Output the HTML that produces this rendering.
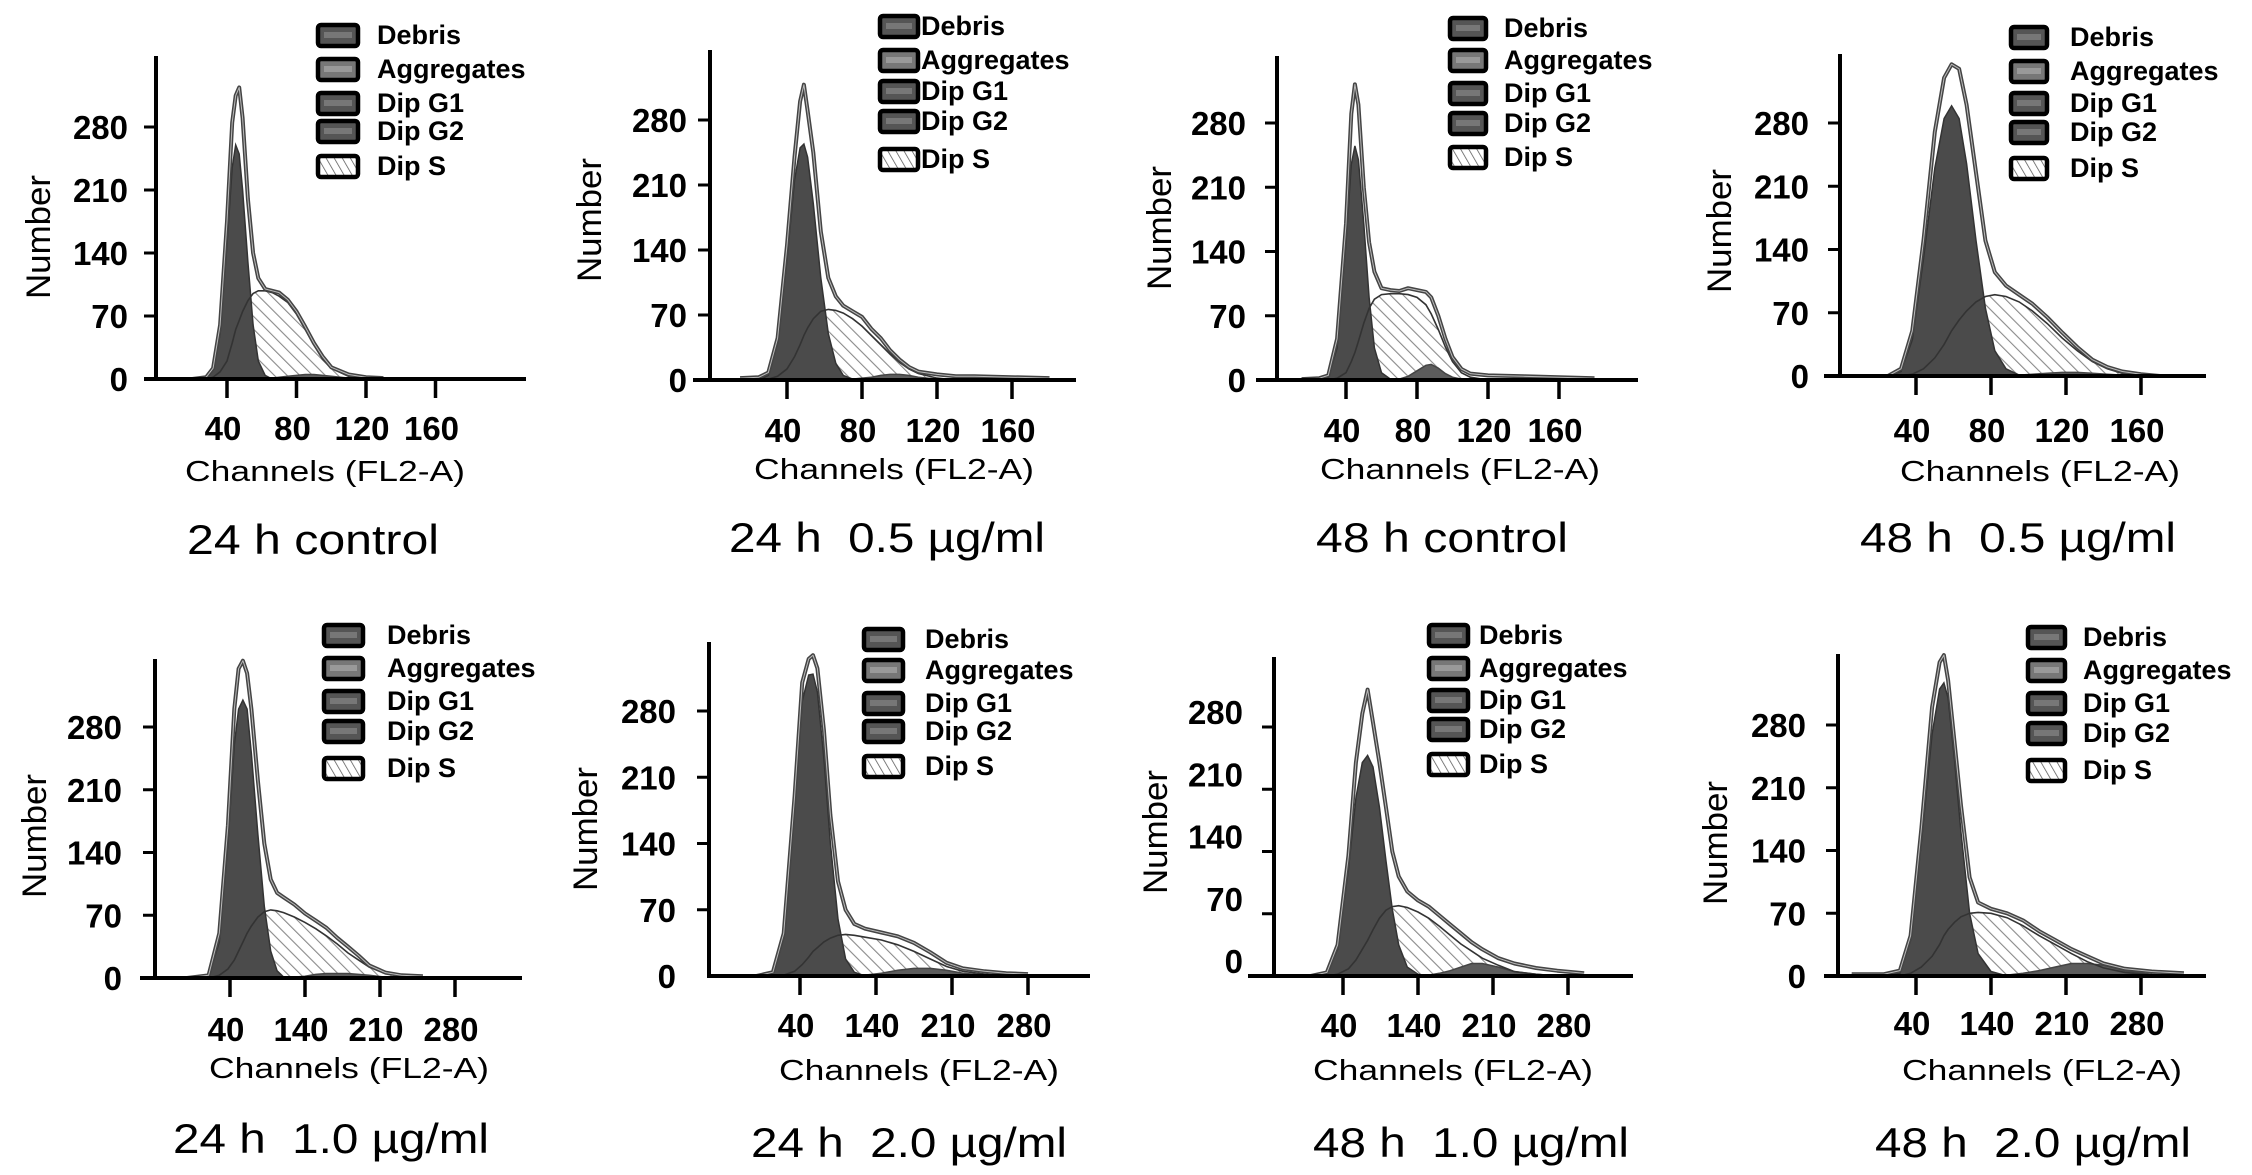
<!DOCTYPE html>
<html><head><meta charset="utf-8">
<style>
html,body{margin:0;padding:0;background:#fff;}
svg{display:block;}
text{font-family:"Liberation Sans",Arial,sans-serif;fill:#000;}
.ttl{white-space:pre;}
</style></head>
<body>
<svg id="fig" xmlns="http://www.w3.org/2000/svg" width="2252" height="1175" viewBox="0 0 2252 1175">
<defs>
<pattern id="hatch" patternUnits="userSpaceOnUse" width="9" height="9" patternTransform="rotate(-45)">
<rect width="9" height="9" fill="#fff"/>
<line x1="0" y1="0" x2="0" y2="9" stroke="#8a8a8a" stroke-width="2.2"/>
</pattern>
<pattern id="hatchS" patternUnits="userSpaceOnUse" width="7" height="7" patternTransform="rotate(-30)">
<rect width="7" height="7" fill="#fff"/>
<line x1="0" y1="0" x2="0" y2="7" stroke="#555" stroke-width="1.5"/>
</pattern>
</defs>
</svg>
<script>
// ---- shared tick data ----
const yTickValues = [0, 70, 140, 210, 280];
const yTickLabels = ["0", "70", "140", "210", "280"];
const xTickValsTop = [40, 80, 120, 160];
const xTickLabelsTop = ["40", "80", "120", "160"];
const xTickValsBottom = [70, 140, 210, 280];
const xTickLabelsBottom = ["40", "140", "210", "280"];
const legendLabels = ["Debris", "Aggregates", "Dip G1", "Dip G2", "Dip S"];
const panelTitles = ["24 h control", "24 h  0.5 µg/ml", "48 h control", "48 h  0.5 µg/ml",
                     "24 h  1.0 µg/ml", "24 h  2.0 µg/ml", "48 h  1.0 µg/ml", "48 h  2.0 µg/ml"];

// ---- panel 1: 24 h control ----
const p1Channels = [20,28,32,36,40,43,45,47,49,52,55,58,62,66,70,75,80,85,90,95,100,110,120,130];
const p1Total = [0,2,12,60,175,285,315,324,290,200,140,112,100,98,96,88,75,58,40,25,13,5,2,1];
const p1G1 = [0,1,10,50,150,235,260,250,210,130,60,20,4,0,0,0,0,0,0,0,0,0,0,0];
const p1S = [0,0,2,8,20,40,55,65,75,87,95,98,98,96,92,85,72,55,38,22,12,3,1,0];
const p1G2 = [0,0,0,0,0,0,0,0,0,0,0,0,0,1,2,3,4,5,5,4,3,1,0,0];
// ---- panel 2: 24 h 0.5 ----
const p2Channels = [15,25,30,35,40,44,47,49,51,54,58,62,66,70,75,80,85,90,95,100,105,110,120,130,140,160,180];
const p2Total = [2,3,8,45,145,240,300,318,290,245,160,110,90,80,74,68,55,45,32,22,14,9,6,4,4,3,2];
const p2G1 = [0,0,5,40,130,215,250,254,240,190,110,50,18,5,1,0,0,0,0,0,0,0,0,0,0,0,0];
const p2S = [0,0,1,4,12,25,38,48,56,66,74,76,75,72,66,58,48,38,28,19,12,7,2,0,0,0,0];
const p2G2 = [0,0,0,0,0,0,0,0,0,0,0,0,0,0,1,2,3,5,6,6,5,3,1,0,0,0,0];
// ---- panel 3: 48 h control ----
const p3Channels = [15,25,30,35,40,43,45,47,50,53,56,60,65,70,75,80,85,88,92,96,100,105,110,120,140,160,180];
const p3Total = [1,2,5,45,170,290,322,300,210,150,118,100,98,97,100,98,96,90,70,45,25,12,7,5,4,3,2];
const p3G1 = [0,0,3,35,150,235,255,240,170,90,35,8,1,0,0,0,0,0,0,0,0,0,0,0,0,0,0];
const p3S = [0,0,0,2,8,20,30,42,62,78,88,93,94,94,93,90,82,72,55,36,20,8,3,0,0,0,0];
const p3G2 = [0,0,0,0,0,0,0,0,0,0,0,0,0,1,4,10,16,17,13,7,3,1,0,0,0,0,0];
// ---- panel 4: 48 h 0.5 ----
const p4Channels = [25,32,38,44,50,55,59,63,67,72,77,82,88,95,102,110,118,126,134,142,150,160,170];
const p4Total = [0,8,50,150,270,330,345,340,300,225,150,115,100,90,80,65,48,32,18,10,5,2,0];
const p4G1 = [0,5,40,130,230,285,299,285,235,150,75,28,8,1,0,0,0,0,0,0,0,0,0];
const p4S = [0,0,2,8,20,35,50,62,72,82,88,90,88,82,72,58,42,28,16,8,3,1,0];
const p4G2 = [0,0,0,0,0,0,0,0,0,0,0,0,0,1,2,3,4,4,3,2,1,0,0];
// ---- panel 5: 24 h 1.0 ----
const p5Channels = [30,50,60,68,74,78,82,86,90,96,102,108,114,120,130,140,150,160,170,180,190,200,215,230,250];
const p5Total = [0,3,50,170,300,345,354,340,300,220,150,110,95,90,82,72,64,56,45,35,25,14,6,3,2];
const p5G1 = [0,2,40,150,260,300,310,300,250,160,80,30,8,1,0,0,0,0,0,0,0,0,0,0,0];
const p5S = [0,0,3,10,20,30,40,50,58,68,74,76,75,73,68,62,55,47,38,28,20,12,5,2,0];
const p5G2 = [0,0,0,0,0,0,0,0,0,0,0,0,0,0,1,2,4,5,5,5,4,3,1,0,0];
// ---- panel 6: 24 h 2.0 ----
const p6Channels = [30,45,55,65,72,78,82,86,92,98,105,112,120,130,145,160,175,190,205,220,240,260,280];
const p6Total = [0,4,45,190,310,335,339,325,260,170,100,70,55,50,46,42,35,25,14,8,5,3,2];
const p6G1 = [0,3,40,180,290,318,319,300,230,140,60,18,4,0,0,0,0,0,0,0,0,0,0];
const p6S = [0,0,1,5,12,20,26,30,36,40,43,44,43,41,38,33,26,18,10,5,2,0,0];
const p6G2 = [0,0,0,0,0,0,0,0,0,0,0,0,0,1,3,6,8,8,6,3,1,0,0];
// ---- panel 7: 48 h 1.0 ----
const p7Channels = [40,55,65,75,82,88,93,98,104,110,116,122,130,140,150,160,170,180,190,200,215,230,250,270,295];
const p7Total = [0,4,35,135,240,295,322,285,240,190,140,112,95,85,78,68,58,48,38,30,20,14,9,6,3];
const p7G1 = [0,3,30,120,200,240,248,235,190,130,75,35,10,2,0,0,0,0,0,0,0,0,0,0,0];
const p7S = [0,0,2,8,18,30,40,52,65,74,78,79,77,72,65,56,46,36,28,20,12,5,2,0,0];
const p7G2 = [0,0,0,0,0,0,0,0,0,0,0,0,0,0,1,3,6,10,14,14,10,5,2,0,0];
// ---- panel 8: 48 h 2.0 ----
const p8Channels = [10,40,55,65,75,85,92,96,100,106,112,120,128,140,155,170,185,200,215,230,245,265,290,320];
const p8Total = [2,2,6,45,165,300,350,358,330,260,190,110,82,75,70,62,50,40,30,22,14,8,5,3];
const p8G1 = [0,0,3,40,150,270,320,327,310,240,160,70,25,5,0,0,0,0,0,0,0,0,0,0];
const p8S = [0,0,0,3,10,22,35,45,52,60,66,70,71,70,65,56,45,35,25,16,9,4,1,0];
const p8G2 = [0,0,0,0,0,0,0,0,0,0,0,0,0,0,1,3,6,10,14,14,12,6,2,0];

const seriesByPanel = [
  [p1Channels,p1Total,p1G1,p1S,p1G2],[p2Channels,p2Total,p2G1,p2S,p2G2],
  [p3Channels,p3Total,p3G1,p3S,p3G2],[p4Channels,p4Total,p4G1,p4S,p4G2],
  [p5Channels,p5Total,p5G1,p5S,p5G2],[p6Channels,p6Total,p6G1,p6S,p6G2],
  [p7Channels,p7Total,p7G1,p7S,p7G2],[p8Channels,p8Total,p8G1,p8S,p8G2]
];

// ---- layout (pixel geometry, not data) ----
const layout = [
 {ax:156,top:56,base:379,y280:127,xa0:144,xa1:526,ox:157.5,tickPx:69.5,bottom:false,lgX:318,lgW:40,lgRows:[35,69,103,131,166],lgT:377,tickBase:440,chX:325,chBase:481,tX:313,tBase:554,numX:38,numY:237,yLabR:128,yLabOff:0},
 {ax:710,top:50,base:380,y280:120,xa0:693,xa1:1076,ox:712,tickPx:75,bottom:false,lgX:880,lgW:38,lgRows:[26,60,91,121,159],lgT:921,tickBase:442,chX:894,chBase:479,tX:887,tBase:552,numX:589,numY:220,yLabR:687,yLabOff:0},
 {ax:1277,top:56,base:380,y280:123,xa0:1256,xa1:1638,ox:1275,tickPx:71,bottom:false,lgX:1450,lgW:36,lgRows:[28,60,93,123,157],lgT:1504,tickBase:442,chX:1460,chBase:479,tX:1442,tBase:552,numX:1159,numY:228,yLabR:1246,yLabOff:0},
 {ax:1840,top:54,base:376,y280:123,xa0:1824,xa1:2206,ox:1841,tickPx:75,bottom:false,lgX:2011,lgW:36,lgRows:[37,71,103,132,168],lgT:2070,tickBase:442,chX:2040,chBase:481,tX:2018,tBase:552,numX:1719,numY:231,yLabR:1809,yLabOff:0},
 {ax:155,top:659,base:978,y280:727,xa0:140,xa1:522,ox:155,tickPx:75,bottom:true,lgX:324,lgW:39,lgRows:[635,668,701,731,768],lgT:387,tickBase:1041,chX:349,chBase:1078,tX:331,tBase:1153,numX:34,numY:836,yLabR:122,yLabOff:0},
 {ax:709,top:642,base:976,y280:711,xa0:709,xa1:1090,ox:724,tickPx:76,bottom:true,lgX:864,lgW:39,lgRows:[639,670,703,731,766],lgT:925,tickBase:1037,chX:919,chBase:1080,tX:909,tBase:1157,numX:585,numY:829,yLabR:676,yLabOff:0},
 {ax:1274,top:657,base:976,y280:727,xa0:1248,xa1:1633,ox:1268,tickPx:75,bottom:true,lgX:1429,lgW:39,lgRows:[635,668,700,729,764],lgT:1479,tickBase:1037,chX:1453,chBase:1080,tX:1471,tBase:1157,numX:1155,numY:832,yLabR:1243,yLabOff:-15},
 {ax:1838,top:654,base:976,y280:725,xa0:1824,xa1:2206,ox:1841,tickPx:75,bottom:true,lgX:2028,lgW:37,lgRows:[637,670,703,733,770],lgT:2083,tickBase:1035,chX:2042,chBase:1080,tX:2033,tBase:1157,numX:1715,numY:843,yLabR:1806,yLabOff:0}
];

const NS = "http://www.w3.org/2000/svg";
const fig = document.getElementById("fig");
function mk(tag, attrs, parent){
  const e = document.createElementNS(NS, tag);
  for (const k in attrs) e.setAttribute(k, attrs[k]);
  parent.appendChild(e);
  return e;
}
function txt(parent, s, attrs){
  const t = mk("text", attrs, parent);
  t.textContent = s;
  return t;
}

layout.forEach((L, i) => {
  const [xs, total, g1, sp, g2] = seriesByPanel[i];
  const tickVals = L.bottom ? xTickValsBottom : xTickValsTop;
  const tickLabs = L.bottom ? xTickLabelsBottom : xTickLabelsTop;
  const unitPx = L.tickPx / (tickVals[1] - tickVals[0]);
  const xScale = v => L.ox + v * unitPx;
  const yScale = v => L.base - v * (L.base - L.y280) / 280;

  const g = mk("g", {}, fig);
  
  

  const areaPath = arr => {
    let d = "M" + xScale(xs[0]) + "," + L.base;
    xs.forEach((x, k) => { d += " L" + xScale(x).toFixed(1) + "," + yScale(arr[k]).toFixed(1); });
    d += " L" + xScale(xs[xs.length - 1]) + "," + L.base + " Z";
    return d;
  };
  const linePath = arr => xs.map((x, k) => (k ? "L" : "M") + xScale(x).toFixed(1) + "," + yScale(arr[k]).toFixed(1)).join(" ");

  const sFill = mk("path", {d: areaPath(sp), fill: "url(#hatch)", stroke: "none"}, g);
  
  
  const g2Fill = mk("path", {d: areaPath(g2), fill: "#5c5c5c", stroke: "#444", "stroke-width": 1.5}, g);
  
  
  const g1Fill = mk("path", {d: areaPath(g1), fill: "#4b4b4b", stroke: "#333", "stroke-width": 1.5}, g);
  
  
  const sLine = mk("path", {d: linePath(sp), fill: "none", stroke: "#333", "stroke-width": 1.6}, g);
  
  
  const totOuter = mk("path", {d: linePath(total), fill: "none", stroke: "#444", "stroke-width": 4, "stroke-linejoin": "round"}, g);
  
  
  const totInner = mk("path", {d: linePath(total), fill: "none", stroke: "#bbb", "stroke-width": 1, "stroke-linejoin": "round"}, g);
  
  

  const yAxis = mk("line", {x1: L.ax, y1: L.top, x2: L.ax, y2: L.base + 2, stroke: "#000", "stroke-width": 4}, g);
  
  
  const xAxis = mk("line", {x1: L.xa0, y1: L.base, x2: L.xa1, y2: L.base, stroke: "#000", "stroke-width": 4}, g);
  
  

  yTickValues.forEach((v, k) => {
    const y = yScale(v);
    if (v > 0) {
      const t = mk("line", {x1: L.ax - 12, y1: y, x2: L.ax, y2: y, stroke: "#000", "stroke-width": 3}, g);
      
      
    }
    const lab = txt(g, yTickLabels[k], {x: L.yLabR, y: y + 12 + L.yLabOff, "text-anchor": "end", "font-size": 33, "font-weight": "bold"});
    
    
  });
  tickVals.forEach((v, k) => {
    const x = xScale(v);
    const t = mk("line", {x1: x, y1: L.base, x2: x, y2: L.base + 19, stroke: "#000", "stroke-width": 3.5}, g);
    
    
    const lab = txt(g, tickLabs[k], {x: x - 4, y: L.tickBase, "text-anchor": "middle", "font-size": 33, "font-weight": "bold"});
    
    
  });

  const xt = txt(g, "Channels (FL2-A)", {x: L.chX, y: L.chBase, "text-anchor": "middle", "font-size": 29, textLength: 280, lengthAdjust: "spacingAndGlyphs"});
  
  
  const yt = txt(g, "Number", {x: 0, y: 0, "text-anchor": "middle", "font-size": 34, textLength: 124, lengthAdjust: "spacingAndGlyphs", transform: "translate(" + (L.numX + 12) + "," + L.numY + ") rotate(-90)"});
  
  
  const tl = (i === 0 || i === 2) ? 252 : 316;
  const title = txt(g, panelTitles[i], {x: L.tX, y: L.tBase, "text-anchor": "middle", "font-size": 42, textLength: tl, lengthAdjust: "spacingAndGlyphs", "class": "ttl"});
  
  

  const lg = mk("g", {}, g);
  
  
  legendLabels.forEach((name, k) => {
    const cy = L.lgRows[k];
    const isS = k === 4;
    const box = mk("rect", {x: L.lgX, y: cy - 10, width: L.lgW, height: 21, rx: 3, fill: isS ? "url(#hatchS)" : (k === 1 ? "#777" : "#555"), stroke: "#000", "stroke-width": 4.5}, lg);
    
    
    if (!isS) {
      const inner = mk("rect", {x: L.lgX + 6, y: cy - 3, width: L.lgW - 12, height: 6, fill: k === 1 ? "#999" : "#777"}, lg);
      
      
    }
    const t = txt(lg, name, {x: L.lgT, y: cy + 9, "font-size": 27, "font-weight": "bold"});
    
    
  });
});
</script>
</body></html>
